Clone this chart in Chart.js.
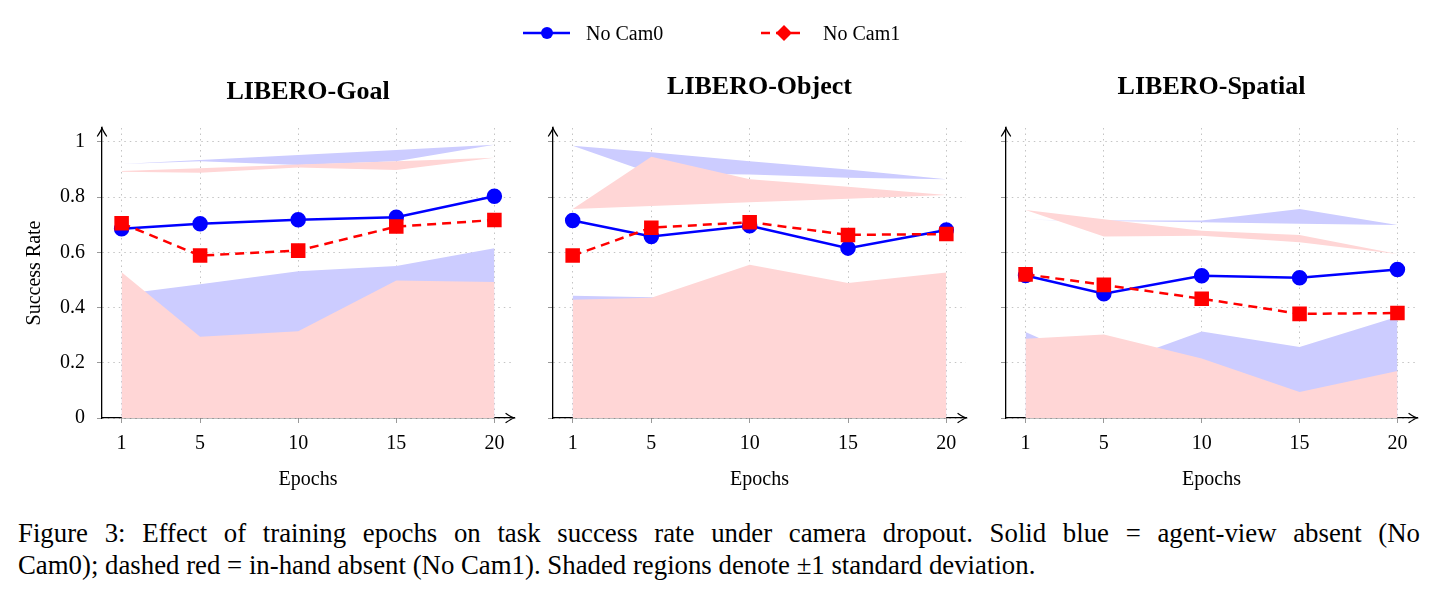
<!DOCTYPE html>
<html>
<head>
<meta charset="utf-8">
<script src="https://cdn.jsdelivr.net/npm/chart.js@4.4.1/dist/chart.umd.min.js"></script>
<style>
  body { margin: 0; background: #fff; width: 1443px; height: 598px; position: relative; overflow: hidden; font-family: "Liberation Serif", serif; }
  canvas { position: absolute; top: 0; }
  .legend { position: absolute; top: 21px; font-size: 20px; line-height: 24px; color: #000; }
  .caption { position: absolute; left: 18px; width: 1402px; font-size: 26.8px; line-height: 32px; color: #000; white-space: nowrap; }
</style>
</head>
<body>
<canvas id="goalChart" style="left:0px" width="525" height="500"></canvas>
<canvas id="objectChart" style="left:460px" width="517" height="500"></canvas>
<canvas id="spatialChart" style="left:912px" width="516" height="500"></canvas>

<svg style="position:absolute;left:520px;top:21px" width="60" height="24">
  <line x1="3" y1="12" x2="50" y2="12" stroke="#00f" stroke-width="2.5"/>
  <circle cx="27" cy="12" r="6" fill="#00f"/>
</svg>
<div class="legend" style="left:586px">No Cam0</div>
<svg style="position:absolute;left:758px;top:21px" width="60" height="24">
  <line x1="3" y1="12" x2="48" y2="12" stroke="#f00" stroke-width="2.5" stroke-dasharray="9,6"/>
  <polygon points="26,4 34,12 26,20 18,12" fill="#f00"/>
</svg>
<div class="legend" style="left:823px">No Cam1</div>

<div class="caption" style="top:517px;white-space:normal;text-align:justify;text-align-last:justify">Figure 3: Effect of training epochs on task success rate under camera dropout. Solid blue = agent-view absent (No</div>
<div class="caption" style="top:549px">Cam0); dashed red = in-hand absent (No Cam1). Shaded regions denote ±1 standard deviation.</div>

<script>
const epochs = [1, 5, 10, 15, 20];
const yTicks = [0, 0.2, 0.4, 0.6, 0.8, 1];
const panelTitles = ["LIBERO-Goal", "LIBERO-Object", "LIBERO-Spatial"];
const seriesNames = ["No Cam0", "No Cam1"];

// LIBERO-Goal
const goalCam0 = [0.685, 0.703, 0.718, 0.727, 0.803];
const goalCam1 = [0.705, 0.588, 0.606, 0.693, 0.717];
const goalCam0Low = [0.448, 0.484, 0.531, 0.550, 0.615];
const goalCam1Low = [0.528, 0.294, 0.314, 0.498, 0.492];
const goalCam0High = [0.920, 0.934, 0.952, 0.970, 0.989];
const goalCam0HighEdge = [0.920, 0.930, 0.916, 0.930, 0.989];
const goalCam1High = [0.894, 0.904, 0.918, 0.930, 0.942];
const goalCam1HighEdge = [0.892, 0.888, 0.907, 0.898, 0.942];

// LIBERO-Object
const objectCam0 = [0.715, 0.657, 0.696, 0.615, 0.681];
const objectCam1 = [0.588, 0.689, 0.709, 0.663, 0.666];
const objectCam0Low = [0.443, 0.437, 0.420, 0.330, 0.300];
const objectCam1Low = [0.428, 0.435, 0.555, 0.489, 0.527];
const objectCam0High = [0.986, 0.962, 0.930, 0.900, 0.864];
const objectCam0HighEdge = [0.986, 0.886, 0.882, 0.870, 0.864];
const objectCam1High = [0.757, 0.946, 0.864, 0.837, 0.807];
const objectCam1HighEdge = [0.757, 0.768, 0.781, 0.794, 0.807];

// LIBERO-Spatial
const spatialCam0 = [0.516, 0.450, 0.515, 0.508, 0.538];
const spatialCam1 = [0.520, 0.482, 0.432, 0.377, 0.380];
const spatialCam0Low = [0.311, 0.185, 0.313, 0.257, 0.367];
const spatialCam1Low = [0.287, 0.302, 0.215, 0.094, 0.170];
const spatialCam0High = [0.718, 0.715, 0.715, 0.757, 0.699];
const spatialCam0HighEdge = [0.718, 0.713, 0.709, 0.703, 0.699];
const spatialCam1High = [0.753, 0.720, 0.678, 0.663, 0.594];
const spatialCam1HighEdge = [0.753, 0.657, 0.660, 0.636, 0.594];

const BLUE = "rgb(0,0,255)";
const RED = "rgb(255,0,0)";
const BLUE_FILL = "rgb(204,204,255)";
const RED_FILL = "rgb(255,214,214)";
const FONT = "'Liberation Serif', 'Times New Roman', serif";

const pts = (vals) => epochs.map((e, i) => ({ x: e, y: vals[i] }));

// panel title + axis arrow heads
const panelDecor = {
  id: "panelDecor",
  afterDraw(chart, args, opts) {
    const { ctx, chartArea } = chart;
    ctx.save();
    ctx.fillStyle = "#000";
    ctx.font = "bold 26px " + FONT;
    ctx.textAlign = "center";
    ctx.textBaseline = "alphabetic";
    ctx.fillText(opts.title, (chartArea.left + chartArea.right) / 2, opts.baseline);

    ctx.strokeStyle = "#000";
    ctx.lineWidth = 1.3;
    ctx.lineCap = "round";
    // y arrow
    let x = chartArea.left, y = chartArea.top;
    ctx.beginPath();
    ctx.moveTo(x - 4.5, y + 8);
    ctx.quadraticCurveTo(x - 0.8, y + 2.5, x, y);
    ctx.quadraticCurveTo(x + 0.8, y + 2.5, x + 4.5, y + 8);
    ctx.stroke();
    // x arrow
    x = chartArea.right; y = chartArea.bottom;
    ctx.beginPath();
    ctx.moveTo(x - 8, y - 4.5);
    ctx.quadraticCurveTo(x - 2.5, y - 0.8, x, y);
    ctx.quadraticCurveTo(x - 2.5, y + 0.8, x - 8, y + 4.5);
    ctx.stroke();
    ctx.restore();
  },
};

const makePanel = (id, title, baseline, yWidth, showY, s) => {
  const ctx = document.getElementById(id).getContext("2d");
  return new Chart(ctx, {
    type: "line",
    data: {
      datasets: [
        {
          label: seriesNames[0],
          data: pts(s.cam0),
          borderColor: BLUE, backgroundColor: BLUE,
          borderWidth: 2.5, pointRadius: 6.5, pointStyle: "circle",
          fill: false, order: 1,
        },
        {
          label: seriesNames[1],
          data: pts(s.cam1),
          borderColor: RED, backgroundColor: RED,
          borderWidth: 2.5, borderDash: [9, 6], pointRadius: 8.5, pointStyle: "rect",
          fill: false, order: 0,
        },
        { data: pts(s.cam0Low), borderWidth: 0, borderColor: "transparent", pointRadius: 0, backgroundColor: BLUE_FILL, fill: "origin", order: 10 },
        { data: pts(s.cam1Low), borderWidth: 0, borderColor: "transparent", pointRadius: 0, backgroundColor: RED_FILL, fill: "origin", order: 9 },
        { data: pts(s.cam0High), borderWidth: 0, borderColor: "transparent", pointRadius: 0, fill: false, order: 8 },
        { data: pts(s.cam0HighEdge), borderWidth: 0, borderColor: "transparent", pointRadius: 0, backgroundColor: BLUE_FILL, fill: 4, order: 8 },
        { data: pts(s.cam1High), borderWidth: 0, borderColor: "transparent", pointRadius: 0, fill: false, order: 7 },
        { data: pts(s.cam1HighEdge), borderWidth: 0, borderColor: "transparent", pointRadius: 0, backgroundColor: RED_FILL, fill: 6, order: 7 },
      ],
    },
    options: {
      responsive: false,
      animation: false,
      events: [],
      layout: { padding: { top: 128, right: 10, left: 0, bottom: 0 } },
      elements: { line: { tension: 0 } },
      plugins: {
        legend: { display: false },
        tooltip: { enabled: false },
        panelDecor: { title: title, baseline: baseline },
      },
      scales: {
        x: {
          type: "linear",
          min: 0, max: 21,
          afterBuildTicks: (sc) => { sc.ticks = epochs.map((v) => ({ value: v })); },
          afterFit: (sc) => { sc.height = 82; },
          ticks: { font: { family: FONT, size: 20 }, color: "#000", padding: 9, maxRotation: 0 },
          grid: { color: "#c4c4c4", lineWidth: 1, tickLength: 5, tickColor: "#999" },
          border: { color: "#000", width: 1.3, dash: [1.5, 4] },
          title: { display: true, text: "Epochs", font: { family: FONT, size: 20 }, color: "#000", padding: { top: 0, bottom: 8 } },
        },
        y: {
          min: 0, max: 1.05,
          afterBuildTicks: (sc) => { sc.ticks = yTicks.map((v) => ({ value: v })); },
          afterFit: (sc) => { sc.width = yWidth; },
          ticks: {
            font: { family: FONT, size: 20 }, color: "#000", padding: 12,
            callback: (v) => (showY ? String(v) : ""),
          },
          grid: { color: "#c4c4c4", lineWidth: 1, tickLength: 5, tickColor: "#999" },
          border: { color: "#000", width: 1.3, dash: [1.5, 4] },
          title: { display: showY, text: "Success Rate", font: { family: FONT, size: 20 }, color: "#000", padding: { top: 23, bottom: 0 } },
        },
      },
    },
    plugins: [panelDecor],
  });
};

makePanel("goalChart", panelTitles[0], 99, 102, true, {
  cam0: goalCam0, cam1: goalCam1, cam0Low: goalCam0Low, cam1Low: goalCam1Low,
  cam0High: goalCam0High, cam0HighEdge: goalCam0HighEdge, cam1High: goalCam1High, cam1HighEdge: goalCam1HighEdge,
});
makePanel("objectChart", panelTitles[1], 94, 93, false, {
  cam0: objectCam0, cam1: objectCam1, cam0Low: objectCam0Low, cam1Low: objectCam1Low,
  cam0High: objectCam0High, cam0HighEdge: objectCam0HighEdge, cam1High: objectCam1High, cam1HighEdge: objectCam1HighEdge,
});
makePanel("spatialChart", panelTitles[2], 94, 94, false, {
  cam0: spatialCam0, cam1: spatialCam1, cam0Low: spatialCam0Low, cam1Low: spatialCam1Low,
  cam0High: spatialCam0High, cam0HighEdge: spatialCam0HighEdge, cam1High: spatialCam1High, cam1HighEdge: spatialCam1HighEdge,
});
</script>
</body>
</html>
